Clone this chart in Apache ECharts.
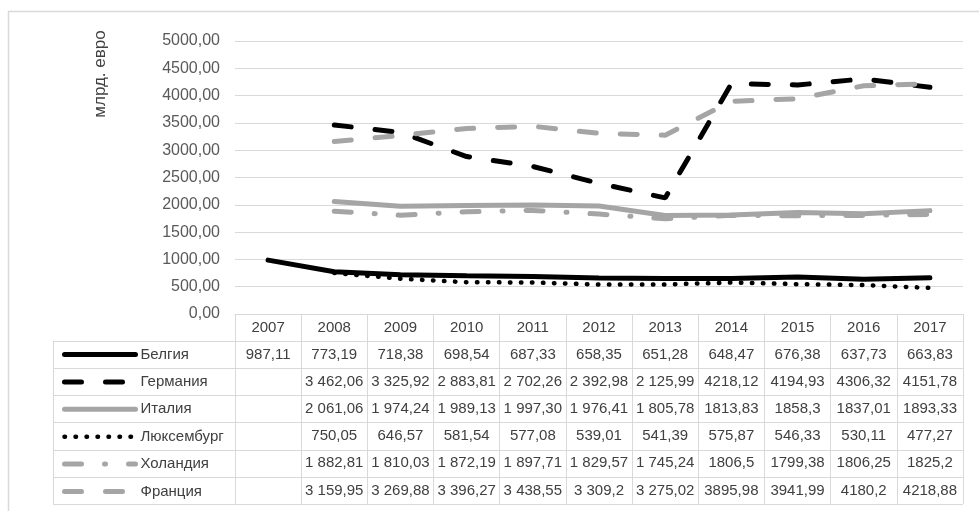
<!DOCTYPE html>
<html>
<head>
<meta charset="utf-8">
<script src="https://cdn.jsdelivr.net/npm/echarts@6/dist/echarts.min.js"></script>
<style>
  html, body { margin: 0; padding: 0; background: #fff; }
  #chart { width: 979px; height: 511px; }
</style>
</head>
<body>
<div id="chart"></div>
<script>
// Years and GDP values (bn EUR), written as they appear in the data table
const years = ['2007', '2008', '2009', '2010', '2011', '2012', '2013', '2014', '2015', '2016', '2017'];

const belgium    = ['987,11', '773,19', '718,38', '698,54', '687,33', '658,35', '651,28', '648,47', '676,38', '637,73', '663,83'];
const germany    = [null, '3 462,06', '3 325,92', '2 883,81', '2 702,26', '2 392,98', '2 125,99', '4218,12', '4194,93', '4306,32', '4151,78'];
const italy      = [null, '2 061,06', '1 974,24', '1 989,13', '1 997,30', '1 976,41', '1 805,78', '1813,83', '1858,3', '1837,01', '1893,33'];
const luxembourg = [null, '750,05', '646,57', '581,54', '577,08', '539,01', '541,39', '575,87', '546,33', '530,11', '477,27'];
const netherlands= [null, '1 882,81', '1 810,03', '1 872,19', '1 897,71', '1 829,57', '1 745,24', '1806,5', '1799,38', '1806,25', '1825,2'];
const france     = [null, '3 159,95', '3 269,88', '3 396,27', '3 438,55', '3 309,2', '3 275,02', '3895,98', '3941,99', '4180,2', '4218,88'];

const seriesNames = ['Белгия', 'Германия', 'Италия', 'Люксембург', 'Холандия', 'Франция'];
const seriesTexts = [belgium, germany, italy, luxembourg, netherlands, france];

const yTicks = { min: 0, max: 5000, step: 500 };
const yTitle = 'млрд. евро';

// "3 462,06" -> 3462.06
function toNumber(s) {
  if (s === null) return null;
  return parseFloat(s.replace(/\s/g, '').replace(',', '.'));
}

const BLACK = '#000000';
const GRAY = '#a5a5a5';
const RULE = '#d9d9d9';
const TEXT = '#404040';
const FONT = '"Liberation Sans", Arial, sans-serif';

const lineStyles = [
  { color: BLACK, width: 5, type: 'solid', cap: 'round' },
  { color: BLACK, width: 5, type: [17, 24], cap: 'round' },
  { color: GRAY,  width: 5, type: 'solid', cap: 'round' },
  { color: BLACK, width: 4.5, type: [0.5, 10.5], cap: 'round' },
  { color: GRAY,  width: 5, type: [17, 23, 1, 23], cap: 'round' },
  { color: GRAY,  width: 5, type: [17, 24], cap: 'round' }
];

// Plot and table geometry
const plotTop = 41, plotBottom = 314, plotLeft = 235, plotRight = 963;
const headerH = 26.8, rowH = 27.2, tableLeft = 53;
const tableBottom = plotBottom + headerH + rowH * seriesNames.length;
const legendItemH = 14.8;

const chart = echarts.init(document.getElementById('chart'), null, { renderer: 'canvas' });

const option = {
  animation: false,
  backgroundColor: '#ffffff',
  textStyle: { fontFamily: FONT },
  grid: {
    left: plotLeft, right: 979 - plotRight,
    top: plotTop, bottom: 511 - plotBottom,
    containLabel: false
  },
  legend: {
    orient: 'vertical',
    left: 62,
    top: plotBottom + headerH + rowH / 2 - legendItemH / 2,
    height: 400,
    padding: 0,
    itemWidth: 71,
    itemHeight: 14,
    itemGap: rowH - legendItemH,
    selectedMode: false,
    itemStyle: { opacity: 0 },
    lineStyle: { width: 'inherit', type: 'inherit', cap: 'inherit' },
    textStyle: { fontSize: 15, lineHeight: 14, color: TEXT, fontFamily: FONT },
    data: seriesNames
  },
  xAxis: {
    type: 'category',
    data: years,
    boundaryGap: true,
    axisLine: { show: true, lineStyle: { color: RULE, width: 1 } },
    axisTick: {
      show: true, interval: 0, inside: false,
      length: tableBottom - plotBottom,
      lineStyle: { color: RULE, width: 1 }
    },
    axisLabel: { interval: 0, margin: 6, fontSize: 15, color: TEXT, fontFamily: FONT },
    splitLine: { show: false }
  },
  yAxis: {
    type: 'value',
    min: yTicks.min, max: yTicks.max, interval: yTicks.step,
    axisLine: { show: false },
    axisTick: { show: false },
    axisLabel: {
      margin: 15, fontSize: 16, color: '#595959', fontFamily: FONT,
      formatter: v => v.toFixed(2).replace('.', ',')
    },
    splitLine: { show: true, lineStyle: { color: RULE, width: 1 } }
  },
  series: seriesNames.map((name, i) => ({
    name: name,
    type: 'line',
    data: seriesTexts[i].map(toNumber),
    symbol: 'none',
    showSymbol: false,
    connectNulls: false,
    lineStyle: lineStyles[i],
    itemStyle: { color: lineStyles[i].color },
    z: 10 - (i === 3 ? 1 : 0)
  }))
};

chart.setOption(option);

// Data table: frame, row rules and value cells aligned with the category axis
const graphics = [];

// outer chart frame
graphics.push({
  type: 'rect', silent: true, z: -1,
  shape: { x: 8.5, y: 11.5, width: 990, height: 520 },
  style: { fill: null, stroke: RULE, lineWidth: 1.5 }
});

// y axis title
graphics.push({
  type: 'text', silent: true,
  x: 100, y: 74, rotation: Math.PI / 2,
  style: {
    text: yTitle, fontSize: 17, fill: TEXT, fontFamily: FONT,
    align: 'center', verticalAlign: 'middle'
  }
});

// horizontal row rules
for (let r = 0; r <= seriesNames.length; r++) {
  const y = Math.round(plotBottom + headerH + r * rowH) + 0.5;
  graphics.push({
    type: 'line', silent: true,
    shape: { x1: tableLeft, y1: y, x2: plotRight, y2: y },
    style: { stroke: RULE, lineWidth: 1 }
  });
}
// left edge of the legend column
graphics.push({
  type: 'line', silent: true,
  shape: { x1: tableLeft + 0.5, y1: Math.round(plotBottom + headerH) + 0.5, x2: tableLeft + 0.5, y2: Math.round(tableBottom) + 0.5 },
  style: { stroke: RULE, lineWidth: 1 }
});

// value cells
seriesTexts.forEach((row, r) => {
  const cy = plotBottom + headerH + r * rowH + rowH / 2;
  row.forEach((txt, c) => {
    if (txt === null) return;
    const cx = chart.convertToPixel({ xAxisIndex: 0 }, years[c]);
    graphics.push({
      type: 'text', silent: true,
      x: cx, y: cy,
      style: {
        text: txt, fontSize: 15, fill: TEXT, fontFamily: FONT,
        align: 'center', verticalAlign: 'middle'
      }
    });
  });
});

chart.setOption({ graphic: graphics });
</script>
</body>
</html>
